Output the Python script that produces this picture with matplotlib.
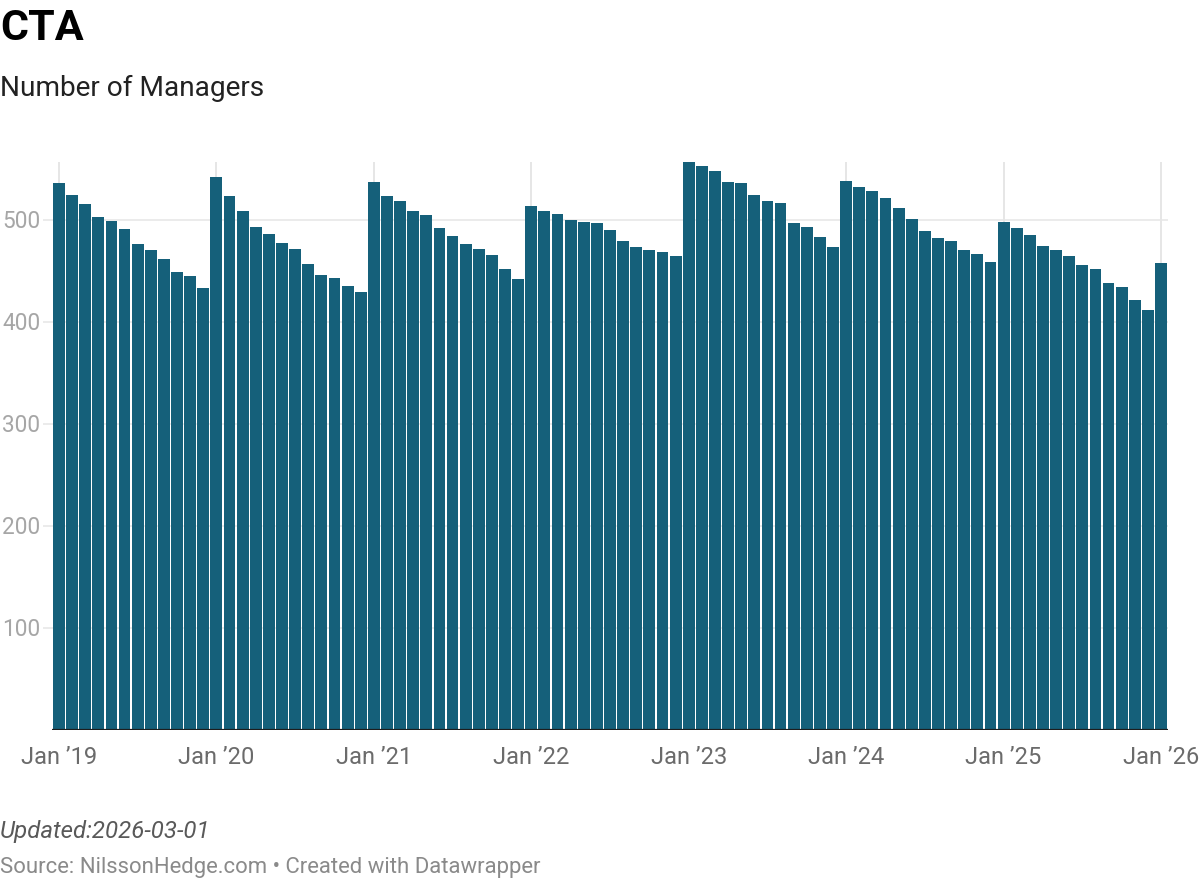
import matplotlib
matplotlib.use("Agg")
import matplotlib.pyplot as plt
import matplotlib.transforms as mtransforms

plt.rcParams['font.family'] = ['Roboto', 'DejaVu Sans']

# ---- data ----
title = "CTA"
subtitle = "Number of Managers"
years = ["19", "20", "21", "22", "23", "24", "25", "26"]
tick_labels = ["Jan \u2019" + y for y in years]
y_ticks = [100, 200, 300, 400, 500]
managers_2019 = [536, 525, 516, 503, 499, 491, 477, 471, 462, 449, 445, 433]
managers_2020 = [542, 524, 509, 493, 486, 478, 472, 457, 446, 443, 435, 429]
managers_2021 = [537, 524, 519, 509, 505, 492, 484, 477, 472, 466, 452, 442]
managers_2022 = [514, 509, 506, 500, 498, 497, 490, 479, 474, 471, 469, 465]
managers_2023 = [557, 553, 548, 537, 536, 525, 519, 517, 497, 493, 483, 474]
managers_2024 = [538, 532, 529, 522, 512, 501, 489, 482, 479, 471, 467, 459]
managers_2025 = [498, 492, 485, 475, 471, 465, 456, 452, 438, 434, 422, 412]
managers_2026 = [458]
values = (managers_2019 + managers_2020 + managers_2021 + managers_2022 +
          managers_2023 + managers_2024 + managers_2025 + managers_2026)
updated = "Updated:2026-03-01"
source = "Source: NilssonHedge.com \u2022 Created with Datawrapper"

# ---- figure ----
W, H = 1200, 880
fig = plt.figure(figsize=(W / 100, H / 100), dpi=100)
fig.patch.set_facecolor("white")

ax_left, ax_right = 52.4, 1167.6
ax_top, ax_bottom = 162.0, 729.7
ax = fig.add_axes([ax_left / W, 1 - ax_bottom / H,
                   (ax_right - ax_left) / W, (ax_bottom - ax_top) / H])
n = len(values)
x = list(range(n))
ax.set_xlim(-0.5, n - 0.5)
ax.set_ylim(0, 557)
for s in ax.spines.values():
    s.set_visible(False)
ax.set_xticks([])
ax.set_yticks([])
ax.patch.set_alpha(0)

grid_color = "#e6e6e6"
# horizontal gridlines extend left beyond axes
trans_h = mtransforms.blended_transform_factory(fig.transFigure, ax.transData)
for v in y_ticks:
    ax.plot([43 / W, ax_right / W], [v, v], transform=trans_h, color=grid_color,
            lw=1.1, zorder=0, clip_on=False, solid_capstyle="butt")
    offset = mtransforms.ScaledTranslation(0, -7.8 / 100, fig.dpi_scale_trans)
    ax.text(2 / W, v, str(v), transform=trans_h + offset, ha="left", va="baseline",
            fontsize=16.3, color="#a6a6a6")

# vertical gridlines at each January
jan_pos = list(range(0, n, 12))
for p in jan_pos:
    ax.axvline(p, color=grid_color, lw=1.4, zorder=0)

ax.bar(x, values, width=0.9, color="#15607a", zorder=2, linewidth=0)
ax.axhline(0, color="#1d1d1d", lw=1.6, zorder=3)

# x tick labels
trans_x = mtransforms.blended_transform_factory(ax.transData, fig.transFigure)
for p, lab in zip(jan_pos, tick_labels):
    ax.text(p, 1 - 763.5 / H, lab, transform=trans_x, ha="center", va="baseline",
            fontsize=17, color="#6b6b6b")

# titles and footer
fig.text(0, 1 - 40.5 / H, title, ha="left", va="baseline", fontsize=31,
         fontweight="bold", color="#000000")
fig.text(0, 1 - 96 / H, subtitle, ha="left", va="baseline", fontsize=20.2,
         color="#222222")
fig.text(0, 1 - 838 / H, updated, ha="left", va="baseline", fontsize=17.3,
         style="italic", color="#595959")
fig.text(0, 1 - 873 / H, source, ha="left", va="baseline", fontsize=15.9,
         color="#8a8a8a")

fig.savefig("out.png", dpi=100, facecolor="white")
